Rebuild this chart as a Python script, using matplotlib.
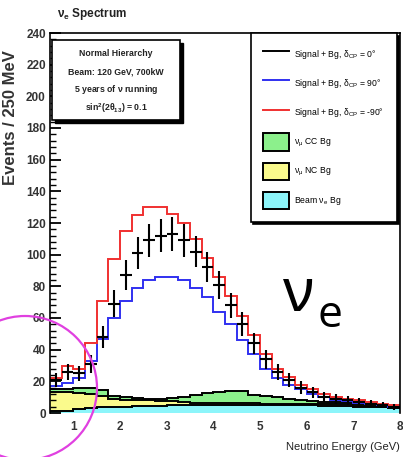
import numpy as np
import matplotlib
matplotlib.use("Agg")
import matplotlib.pyplot as plt
from matplotlib.lines import Line2D
from matplotlib.patches import Patch, Rectangle, Ellipse

plt.rcParams['font.family'] = ['Liberation Sans', 'DejaVu Sans']
plt.rcParams['mathtext.fontset'] = 'custom'
plt.rcParams['mathtext.rm'] = 'Liberation Sans'
plt.rcParams['mathtext.it'] = 'Liberation Sans:italic'
plt.rcParams['mathtext.bf'] = 'Liberation Sans:bold'
plt.rcParams['mathtext.default'] = 'regular'

# bin edges: 250 MeV bins from 0.5 to 8 GeV
edges = np.arange(0.5, 8.01, 0.25)
centers = 0.5 * (edges[:-1] + edges[1:])

# signal + background, delta_CP = 0 (points with errors)
sig_d0 = [21, 26, 25, 31, 48, 69, 87, 101, 109, 112, 113, 109, 102, 92, 81,
          68, 56, 44, 34, 26, 21, 16, 13, 10, 9, 8, 7, 6, 5, 4]
sig_d0_err = [4.5, 5, 5, 5.5, 7, 8.5, 9.5, 10, 10.5, 10.5, 10.5, 10.5, 10, 9.5, 9,
              8, 7.5, 6.5, 6, 5, 4.5, 4, 3.5, 3, 3, 3, 2.5, 2.5, 2, 2]
# delta_CP = 90
sig_d90 = [17, 19, 22, 33, 47, 60, 71, 79, 84, 86, 86, 84, 79, 73, 64,
           56, 46, 37, 28, 22, 18, 15, 12, 10, 8.5, 7.5, 6.5, 5.5, 5, 4]
# delta_CP = -90
sig_dm90 = [22, 30, 28, 44, 71, 97, 115, 125, 130, 130, 126, 120, 110, 98, 86,
            74, 61, 49, 37, 28, 23, 18, 15, 12, 10, 9, 8, 7, 6, 5]

# backgrounds (stacked: beam nu_e, NC, nu_mu CC)
bg_beam = [1, 1.5, 2.5, 3, 3.5, 4, 4, 4.5, 4.5, 4.5, 5, 5, 5, 5, 5,
           5, 5, 5, 5, 5, 5, 5, 5, 4.5, 4.5, 4.5, 4, 4, 3.5, 3]
bg_nc = [12, 11.5, 10, 9, 7, 5, 4.5, 4, 3.5, 3, 2.5, 2, 1.5, 1.5, 1.5,
         1.5, 1.5, 1.5, 1, 1, 1, 1, 1, 1, 1, 1, 0.5, 0.5, 0.5, 0.5]
bg_cc = [2, 2, 3, 4, 4, 2, 1.5, 1, 1, 1.5, 2, 3, 5, 6, 7,
         7.5, 7.5, 5, 4.5, 4, 3, 2, 1.5, 1.5, 1.5, 1.5, 1.5, 1.5, 0.5, 0.5]

legend_labels = [r'Signal + Bg, $\delta_{CP}$ = 0°',
                 r'Signal + Bg, $\delta_{CP}$ = 90°',
                 r'Signal + Bg, $\delta_{CP}$ = -90°',
                 r'$\nu_{\mu}$ CC Bg',
                 r'$\nu_{\mu}$ NC Bg',
                 r'Beam $\nu_e$ Bg']
info_lines = ['Normal Hierarchy', 'Beam: 120 GeV, 700kW',
              r'5 years of $\nu$ running', r'sin$^2$(2$\theta_{13}$) = 0.1']

W, H = 403, 457
fig = plt.figure(figsize=(W / 100, H / 100), dpi=100)
ax = fig.add_axes([50 / W, 44 / H, 350 / W, 380 / H])

c_cc, c_nc, c_beam = '#8cf08c', '#fafa8c', '#8cf5fa'

b0 = np.zeros(len(bg_beam))
b1 = b0 + np.array(bg_beam)
b2 = b1 + np.array(bg_nc)
b3 = b2 + np.array(bg_cc)
ax.stairs(b1, edges, baseline=b0, fill=True, color=c_beam)
ax.stairs(b2, edges, baseline=b1, fill=True, color=c_nc)
ax.stairs(b3, edges, baseline=b2, fill=True, color=c_cc)
for top in (b1, b2, b3):
    ax.stairs(top, edges, baseline=None, color='black', lw=1.4)

ax.stairs(sig_d90, edges, baseline=None, color='#3030f0', lw=1.4)
ax.stairs(sig_dm90, edges, baseline=None, color='#f03030', lw=1.4)
ax.errorbar(centers, sig_d0, xerr=0.125, yerr=sig_d0_err, fmt='none',
            ecolor='black', elinewidth=1.5, capsize=0)

ax.set_xlim(0.5, 8.0)
ax.set_ylim(0, 240)
ax.set_xticks(np.arange(1, 9, 1))
ax.set_yticks(np.arange(0, 241, 20))
ax.set_yticks(np.arange(0, 241, 4), minor=True)
ax.tick_params(which='both', direction='in', labelsize=8.5, top=False, right=False)
ax.tick_params(axis='y', which='major', length=8, width=1.3, pad=3)
ax.tick_params(axis='y', which='minor', length=4, width=1.0)
ax.tick_params(axis='x', length=0, pad=6)
for lab in ax.get_xticklabels() + ax.get_yticklabels():
    lab.set_fontweight('bold')
    lab.set_color('#333333')
for s in ax.spines.values():
    s.set_linewidth(1.2)
ax.spines['bottom'].set_visible(False)

fig.text(57 / W, 1 - 14 / H, r'$\nu_e$ Spectrum', ha='left', va='center',
         fontsize=8.5, weight='bold', color='#222222')
fig.text(11 / W, 1 - 118 / H, 'Events / 250 MeV', rotation=90, ha='center',
         va='center', fontsize=12, weight='bold', color='#333333')
fig.text(400 / W, 1 - 447 / H, 'Neutrino Energy (GeV)', ha='right', va='center',
         fontsize=8, color='#222222')

# info box with ROOT-style shadow
fig.add_artist(Rectangle((55 / W, 1 - 123 / H), 128 / W, 80 / H,
                         transform=fig.transFigure, fc='black', ec='black'))
fig.add_artist(Rectangle((52 / W, 1 - 120 / H), 128 / W, 80 / H,
                         transform=fig.transFigure, fc='white', ec='black', lw=1.2))
for i, line in enumerate(info_lines):
    fig.text(116 / W, 1 - (53 + 18.5 * i) / H, line, ha='center', va='center',
             fontsize=6.3, weight='bold', color='#222222')

handles = [Line2D([], [], color='black', lw=1.4),
           Line2D([], [], color='#3030f0', lw=1.4),
           Line2D([], [], color='#f03030', lw=1.4),
           Patch(fc=c_cc, ec='black', lw=1.4),
           Patch(fc=c_nc, ec='black', lw=1.4),
           Patch(fc=c_beam, ec='black', lw=1.4)]
leg = ax.legend(handles, legend_labels, loc='upper right', bbox_to_anchor=(0.99, 1.0),
                borderaxespad=0, fontsize=6.2, handlelength=3.0, handleheight=2.7,
                labelspacing=1.4, borderpad=1.45, handletextpad=0.6, fancybox=False,
                shadow={'color': 'black', 'alpha': 1}, framealpha=1)
leg.get_frame().set_edgecolor('black')
leg.get_frame().set_linewidth(1.2)

# big nu_e annotation
fig.text(283 / W, 1 - 295 / H, 'ν', ha='left', va='center', fontsize=43,
         family='Noto Sans', color='black')
fig.text(318 / W, 1 - 316 / H, 'e', ha='left', va='center', fontsize=32,
         family='Open Sans', color='black')

# magenta highlight circle
fig.add_artist(Ellipse((25 / W, 1 - 388 / H), 144 / W, 144 / H, transform=fig.transFigure,
                       fill=False, ec='#e040e0', lw=1.6))

fig.savefig('out.png', dpi=100)
